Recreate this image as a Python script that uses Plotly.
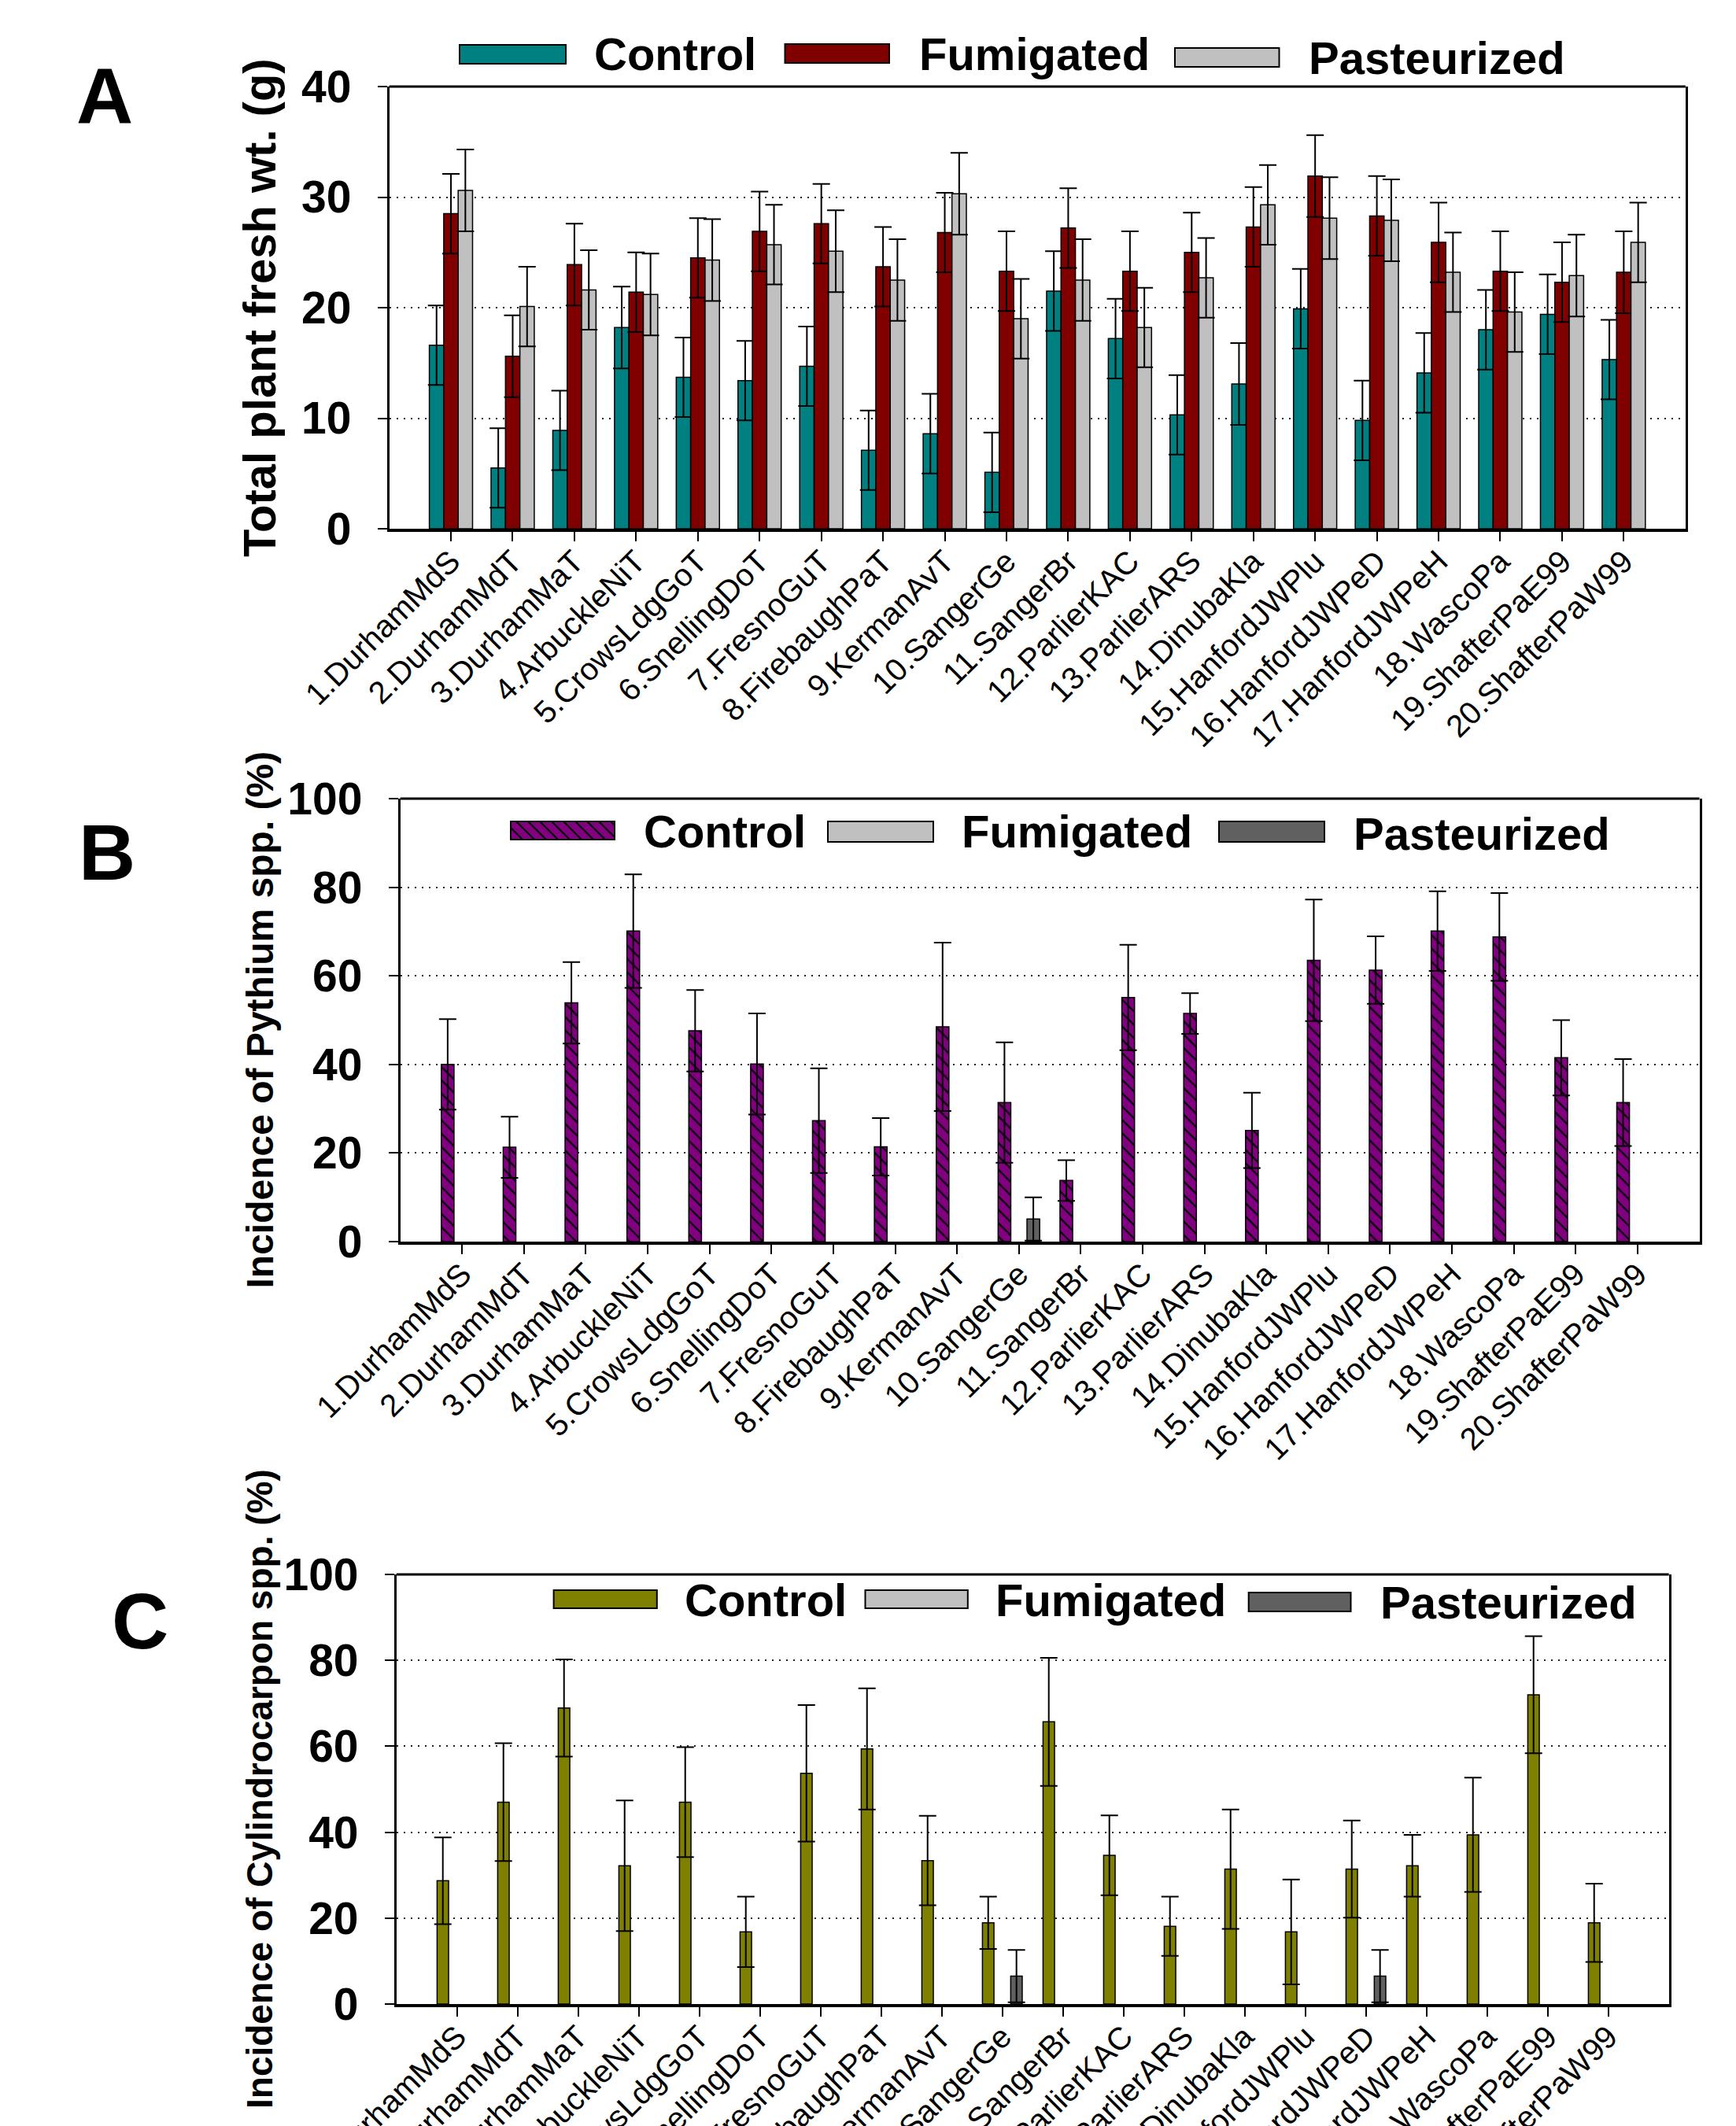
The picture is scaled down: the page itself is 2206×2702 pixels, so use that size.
import plotly.graph_objects as go

W, H = 2206, 2702
FONT = "Liberation Sans, Arial, sans-serif"

# ---------------- data ----------------
categories = ["1.DurhamMdS", "2.DurhamMdT", "3.DurhamMaT", "4.ArbuckleNiT", "5.CrowsLdgGoT",
              "6.SnellingDoT", "7.FresnoGuT", "8.FirebaughPaT", "9.KermanAvT", "10.SangerGe",
              "11.SangerBr", "12.ParlierKAC", "13.ParlierARS", "14.DinubaKla", "15.HanfordJWPlu",
              "16.HanfordJWPeD", "17.HanfordJWPeH", "18.WascoPa", "19.ShafterPaE99", "20.ShafterPaW99"]
series_names = ["Control", "Fumigated", "Pasteurized"]

# Panel A: total plant fresh weight (g)
a_control = [16.6, 5.5, 8.9, 18.2, 13.7, 13.4, 14.7, 7.1, 8.6, 5.1, 21.5, 17.2, 10.3, 13.1, 19.9, 9.8, 14.1, 18.0, 19.4, 15.3]
a_control_err = [3.6, 3.6, 3.6, 3.7, 3.6, 3.6, 3.6, 3.6, 3.6, 3.6, 3.6, 3.6, 3.6, 3.7, 3.6, 3.6, 3.6, 3.6, 3.6, 3.6]
a_fumigated = [28.5, 15.6, 23.9, 21.4, 24.5, 26.9, 27.6, 23.7, 26.8, 23.3, 27.2, 23.3, 25.0, 27.3, 31.9, 28.3, 25.9, 23.3, 22.3, 23.2]
a_fumigated_err = [3.6, 3.7, 3.7, 3.6, 3.6, 3.6, 3.6, 3.6, 3.6, 3.6, 3.6, 3.6, 3.6, 3.6, 3.7, 3.6, 3.6, 3.6, 3.6, 3.7]
a_pasteurized = [30.6, 20.1, 21.6, 21.2, 24.3, 25.7, 25.1, 22.5, 30.3, 19.0, 22.5, 18.2, 22.7, 29.3, 28.1, 27.9, 23.2, 19.6, 22.9, 25.9]
a_pasteurized_err = [3.7, 3.6, 3.6, 3.7, 3.7, 3.6, 3.7, 3.7, 3.7, 3.6, 3.7, 3.6, 3.6, 3.6, 3.7, 3.7, 3.6, 3.6, 3.7, 3.6]

# Panel B: incidence of Pythium spp. (%)
b_control = [40.0, 21.3, 53.9, 70.1, 47.6, 40.1, 27.3, 21.4, 48.5, 31.4, 13.8, 55.1, 51.5, 25.1, 63.5, 61.3, 70.1, 68.8, 41.5, 31.4]
b_control_err = [10.2, 6.9, 9.2, 12.8, 9.2, 11.4, 11.8, 6.5, 19.0, 13.6, 4.6, 11.9, 4.6, 8.5, 13.7, 7.6, 9.0, 9.9, 8.5, 9.8]
b_fumigated = [0, 0, 0, 0, 0, 0, 0, 0, 0, 0, 0, 0, 0, 0, 0, 0, 0, 0, 0, 0]
b_fumigated_err = [0, 0, 0, 0, 0, 0, 0, 0, 0, 0, 0, 0, 0, 0, 0, 0, 0, 0, 0, 0]
b_pasteurized = [0, 0, 0, 0, 0, 0, 0, 0, 0, 5.1, 0, 0, 0, 0, 0, 0, 0, 0, 0, 0]
b_pasteurized_err = [0, 0, 0, 0, 0, 0, 0, 0, 0, 4.9, 0, 0, 0, 0, 0, 0, 0, 0, 0, 0]

# Panel C: incidence of Cylindrocarpon spp. (%)
c_control = [28.7, 47.0, 68.9, 32.2, 47.0, 16.8, 53.7, 59.4, 33.4, 18.9, 65.7, 34.6, 18.1, 31.4, 16.8, 31.4, 32.2, 39.4, 72.0, 18.9]
c_control_err = [10.1, 13.7, 11.3, 15.2, 12.8, 8.2, 15.9, 14.1, 10.4, 6.1, 14.9, 9.3, 6.9, 13.9, 12.2, 11.3, 7.2, 13.3, 13.6, 9.1]
c_fumigated = [0, 0, 0, 0, 0, 0, 0, 0, 0, 0, 0, 0, 0, 0, 0, 0, 0, 0, 0, 0]
c_fumigated_err = [0, 0, 0, 0, 0, 0, 0, 0, 0, 0, 0, 0, 0, 0, 0, 0, 0, 0, 0, 0]
c_pasteurized = [0, 0, 0, 0, 0, 0, 0, 0, 0, 6.5, 0, 0, 0, 0, 0, 6.5, 0, 0, 0, 0]
c_pasteurized_err = [0, 0, 0, 0, 0, 0, 0, 0, 0, 6.1, 0, 0, 0, 0, 0, 6.1, 0, 0, 0, 0]

y_titles = ["Total plant fresh wt. (g)", "Incidence of Pythium spp. (%)", "Incidence of Cylindrocarpon spp. (%)"]
panel_letters = ["A", "B", "C"]

colors_a = ["#008080", "#800000", "#C0C0C0"]
colors_b = ["#800080", "#C0C0C0", "#606060"]
colors_c = ["#808000", "#C0C0C0", "#606060"]


def px(x):
    return x / W


def py(y):
    return 1 - y / H


fig = go.Figure()

panels = [
    dict(xa="x", ya="y", vals=[a_control, a_fumigated, a_pasteurized],
         errs=[a_control_err, a_fumigated_err, a_pasteurized_err], colors=colors_a,
         hatch=False, barw=None),
    dict(xa="x2", ya="y2", vals=[b_control, b_fumigated, b_pasteurized],
         errs=[b_control_err, b_fumigated_err, b_pasteurized_err], colors=colors_b,
         hatch=True, barw=0.205),
    dict(xa="x3", ya="y3", vals=[c_control, c_fumigated, c_pasteurized],
         errs=[c_control_err, c_fumigated_err, c_pasteurized_err], colors=colors_c,
         hatch=False, barw=0.19),
]

for p in panels:
    for i, name in enumerate(series_names):
        marker = dict(color=p["colors"][i], line=dict(color="black", width=1.5))
        if p["hatch"] and i == 0:
            marker["pattern"] = dict(shape="\\", fgcolor="black", bgcolor=p["colors"][i],
                                     size=12, solidity=0.18, fillmode="replace")
        # zero-incidence bars are not drawn (kept as gaps in the group)
        yv = [v if v else None for v in p["vals"][i]]
        ev = [e if v else None for v, e in zip(p["vals"][i], p["errs"][i])]
        kw = {}
        if p["barw"] is not None:
            kw["width"] = p["barw"]
        fig.add_trace(go.Bar(
            x=categories, y=yv, name=name, xaxis=p["xa"], yaxis=p["ya"],
            marker=marker, showlegend=False,
            error_y=dict(type="data", array=ev, visible=True,
                         color="black", thickness=2, width=11),
            **kw,
        ))

# ---------------- axes geometry (pixels) ----------------
geom = [
    dict(l=494.6, r=2141.8, t=110, b=672, yr=[0, 40], dt=10),
    dict(l=508.6, r=2159.5, t=1015, b=1578, yr=[0, 100], dt=20),
    dict(l=503.7, r=2120.7, t=2001, b=2547, yr=[0, 100], dt=20),
]

layout = dict(
    width=W, height=H, autosize=False,
    margin=dict(l=0, r=0, t=0, b=0, pad=0, autoexpand=False),
    paper_bgcolor="white", plot_bgcolor="white",
    barmode="group", bargap=0.3, bargroupgap=0.0,
    showlegend=False,
    font=dict(family=FONT, color="black"),
)

shapes = []
annotations = []
for k, g in enumerate(geom):
    sx = "" if k == 0 else str(k + 1)
    layout["xaxis" + sx] = dict(
        domain=[px(g["l"]), px(g["r"])], anchor="y" + sx, automargin=False,
        type="category", categoryorder="array", categoryarray=categories,
        range=[-1, 20], showgrid=False, zeroline=False,
        showline=True, linewidth=4, linecolor="black", mirror=False,
        ticks="outside", ticklen=12, tickwidth=2, tickcolor="black",
        ticklabelstandoff=-14,
        tickangle=-45, tickfont=dict(family=FONT, size=40, color="black"),
    )
    layout["yaxis" + sx] = dict(
        domain=[py(g["b"]), py(g["t"])], anchor="x" + sx, automargin=False,
        range=g["yr"], dtick=g["dt"], tick0=0,
        showline=True, linewidth=2.5, linecolor="black", mirror=True,
        ticks="outside", ticklen=12, tickwidth=2, tickcolor="black",
        showgrid=True, gridcolor="#222222", gridwidth=2, griddash="2px,7px",
        zeroline=False, ticklabelstandoff=22,
        tickfont=dict(family=FONT, size=57, color="black", weight="bold"),
    )
    # top frame line
    shapes.append(dict(type="line", xref="x%s domain" % sx, yref="y%s domain" % sx,
                       x0=0, x1=1, y0=1, y1=1, line=dict(color="black", width=3)))

# y-axis titles (rotated)
title_sizes = [58, 48, 46]
for k, g in enumerate(geom):
    annotations.append(dict(
        text="<b>%s</b>" % y_titles[k], xref="paper", yref="paper",
        x=px(330), y=py((g["t"] + g["b"]) / 2), xanchor="center", yanchor="middle",
        textangle=-90, showarrow=False,
        font=dict(family=FONT, size=title_sizes[k], color="black"),
    ))

# panel letters
letter_pos = [(133, 122), (136, 1083), (178, 2060)]
for k, (lx, ly) in enumerate(letter_pos):
    annotations.append(dict(
        text="<b>%s</b>" % panel_letters[k], xref="paper", yref="paper",
        x=px(lx), y=py(ly), xanchor="center", yanchor="middle", showarrow=False,
        font=dict(family=FONT, size=100, color="black"),
    ))

# custom legends: swatch rectangles + labels
legend_swatches = [
    [(584, 719, 57, 81), (997.5, 1130, 56, 80), (1493, 1625.5, 61, 85)],
    [(649, 781, 1044, 1067), (1052, 1186, 1044, 1070), (1549, 1683, 1044, 1070)],
    [(703.6, 834.8, 2021, 2044), (1099.5, 1229.8, 2021, 2044), (1586.7, 1716.5, 2024, 2048)],
]
legend_text_pos = [
    [(754, 68), (1167, 68), (1662, 73)],
    [(817, 1056), (1221, 1056), (1719, 1059)],
    [(868.5, 2033), (1264, 2033), (1752.5, 2036)],
]
panel_colors = [colors_a, colors_b, colors_c]
for k in range(3):
    for i in range(3):
        x0, x1, y0, y1 = legend_swatches[k][i]
        shapes.append(dict(type="rect", xref="paper", yref="paper",
                           x0=px(x0), x1=px(x1), y0=py(y1), y1=py(y0),
                           fillcolor=panel_colors[k][i], line=dict(color="black", width=2)))
        if k == 1 and i == 0:
            # diagonal hatch "\" inside the Pythium control swatch
            h = y1 - y0
            step = 15
            segs = []
            xs = x0 - h
            while xs < x1:
                t0 = max(0.0, (x0 - xs) / h)
                t1 = min(1.0, (x1 - xs) / h)
                if t1 > t0:
                    ax, ay = xs + t0 * h, y0 + t0 * h
                    bx, by = xs + t1 * h, y0 + t1 * h
                    segs.append("M%.5f,%.5f L%.5f,%.5f" % (px(ax), py(ay), px(bx), py(by)))
                xs += step
            shapes.append(dict(type="path", xref="paper", yref="paper", path=" ".join(segs),
                               line=dict(color="black", width=2)))
        tx, ty = legend_text_pos[k][i]
        annotations.append(dict(
            text="<b>%s</b>" % series_names[i], xref="paper", yref="paper",
            x=px(tx), y=py(ty), xanchor="left", yanchor="middle", showarrow=False,
            font=dict(family=FONT, size=58, color="black"), borderpad=0,
        ))

layout["shapes"] = shapes
layout["annotations"] = annotations
fig.update_layout(**layout)

fig.write_html("out.html", config={"displayModeBar": False},
               post_script="document.body.style.margin='0px';document.body.style.overflow='hidden';")
